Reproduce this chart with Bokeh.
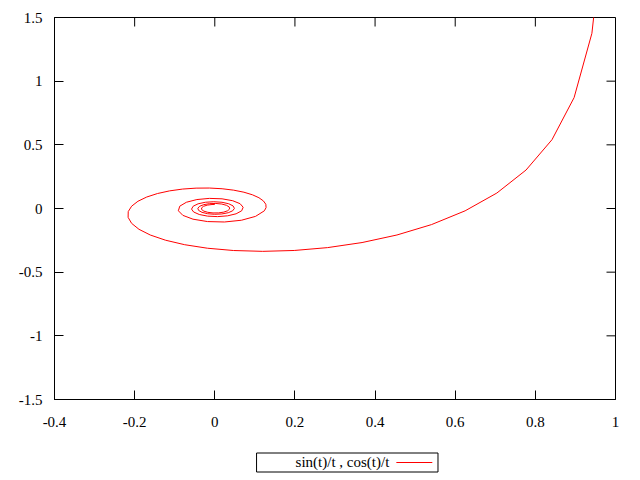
import math
from bokeh.plotting import figure
from bokeh.models import Range1d, FixedTicker
from bokeh.layouts import column
from bokeh.core.properties import value
from bokeh.embed import file_html
from bokeh.resources import INLINE

# Points of the spiral (x, y pairs in data units)
curve_x = [0.9735, 0.9411, 0.8967, 0.8415, 0.7767, 0.7039, 0.6247, 0.5410, 0.4546, 0.3675,
           0.2815, 0.1983, 0.1196, 0.0470, -0.0183, -0.0751, -0.1229, -0.1610, -0.1892, -0.2075,
           -0.2163, -0.2160, -0.2075, -0.1918, -0.1699, -0.1431, -0.1127, -0.0801, -0.0466, -0.0134,
           0.0182, 0.0472, 0.0727, 0.0939, 0.1102, 0.1214, 0.1274, 0.1280, 0.1237,
           0.1017, 0.0665, 0.0242, -0.0182, -0.0544, -0.0796, -0.0909, -0.0874, -0.0709, -0.0447,
           -0.0134, 0.0181, 0.0448, 0.0632, 0.0708, 0.0671, 0.0532, 0.0320, 0.0069, -0.0180,
           -0.0388, -0.0528, -0.0580, -0.0539, -0.0417, -0.0236, -0.0026, 0.0179, 0.0348, 0.0456,
           0.0490, 0.0447, 0.0336, 0.0176, -0.0004, -0.0177, -0.0318, -0.0403, -0.0423, -0.0377,
           -0.0273, -0.0131, 0.0027, 0.0176, 0.0293, 0.0362, 0.0371, 0.0323, 0.0226, 0.0097,
           -0.0044, -0.0175, -0.0273, -0.0328, -0.0329, -0.0280, -0.0189, -0.0069, 0.0000]
curve_y = [2.3027, 1.3756, 0.8709, 0.5403, 0.3020, 0.1214, -0.0182, -0.1262, -0.2081, -0.2675,
           -0.3072, -0.3296, -0.3365, -0.3300, -0.3120, -0.2844, -0.2491, -0.2082, -0.1634, -0.1167,
           -0.0698, -0.0244, 0.0182, 0.0567, 0.0901, 0.1175, 0.1385, 0.1527, 0.1600, 0.1607,
           0.1552, 0.1440, 0.1279, 0.1077, 0.0845, 0.0593, 0.0331, 0.0069, -0.0182,
           -0.0618, -0.0922, -0.1060, -0.1026, -0.0839, -0.0539, -0.0179, 0.0182, 0.0490, 0.0703,
           0.0795, 0.0760, 0.0611, 0.0376, 0.0098, -0.0180, -0.0416, -0.0575, -0.0637, -0.0599,
           -0.0470, -0.0274, -0.0046, 0.0179, 0.0367, 0.0490, 0.0531, 0.0489, 0.0373, 0.0204,
           0.0010, -0.0178, -0.0332, -0.0428, -0.0455, -0.0410, -0.0302, -0.0153, 0.0016, 0.0177,
           0.0305, 0.0381, 0.0396, 0.0349, 0.0249, 0.0113, -0.0036, -0.0175, -0.0283, -0.0344,
           -0.0349, -0.0300, -0.0206, -0.0082, 0.0051, 0.0173, 0.0264, 0.0313, 0.0318]
series_label = "sin(t)/t , cos(t)/t"

x_ticks = [-0.4, -0.2, 0, 0.2, 0.4, 0.6, 0.8, 1]
x_tick_labels = ["-0.4", "-0.2", "0", "0.2", "0.4", "0.6", "0.8", "1"]
y_ticks = [-1.5, -1, -0.5, 0, 0.5, 1, 1.5]
y_tick_labels = ["-1.5", "-1", "-0.5", "0", "0.5", "1", "1.5"]

X_MIN, X_MAX = -0.4, 1
Y_MIN, Y_MAX = -1.5, 1.5

FONT = "Liberation Serif"
FS = "15px"
RED = "#ff0000"

p = figure(frame_width=561, frame_height=382,
           x_range=Range1d(X_MIN, X_MAX), y_range=Range1d(Y_MIN, Y_MAX),
           output_backend="svg", toolbar_location=None,
           min_border_left=54, min_border_right=25, min_border_top=17, min_border_bottom=33)
p.grid.visible = False
p.outline_line_color = "black"
p.background_fill_color = "white"
p.border_fill_color = "white"

p.line(curve_x, curve_y, line_color=RED, line_width=1)


def style(ax, ticks, labels, standoff):
    ax.ticker = FixedTicker(ticks=ticks)
    ax.major_label_overrides = dict(zip(ticks, labels))
    ax.major_tick_in = 9
    ax.major_tick_out = 0
    ax.minor_tick_line_color = None
    ax.axis_line_color = "black"
    ax.major_tick_line_color = "black"
    ax.major_label_text_font = FONT
    ax.major_label_text_color = "black"
    ax.major_label_text_font_size = FS
    ax.major_label_standoff = standoff


style(p.below[0], x_ticks, x_tick_labels, 17)
style(p.left[0], y_ticks, y_tick_labels, 12)

# mirrored inward ticks on the top and right edges (gnuplot style)
p.ray(x=x_ticks, y=[Y_MAX] * len(x_ticks), length=9, length_units="screen",
      angle=-math.pi / 2, line_color="black", line_width=1)
p.ray(x=[X_MAX] * len(y_ticks), y=y_ticks, length=9, length_units="screen",
      angle=math.pi, line_color="black", line_width=1)

# key box below the plot (text then line sample, as in the reference)
leg = figure(width=640, height=48, x_range=Range1d(0, 640), y_range=Range1d(0, 48),
             output_backend="svg", toolbar_location=None, min_border=0,
             x_axis_location=None, y_axis_location=None)
leg.grid.visible = False
leg.outline_line_color = None
leg.background_fill_color = "white"
leg.border_fill_color = "white"
leg.quad(left=[230.5], right=[437.5], bottom=[8.5], top=[27.5],
         fill_color=None, line_color="black", line_width=1)
leg.text(x=[382], y=[18.5], text=[series_label], text_align="right", text_baseline="middle",
         text_font=value(FONT), text_font_size=FS, text_color="black")
leg.line(x=[390, 431], y=[18, 18], line_color=RED, line_width=1)

layout = column(p, leg, spacing=0)
open("out.html", "w").write(file_html(layout, INLINE))
